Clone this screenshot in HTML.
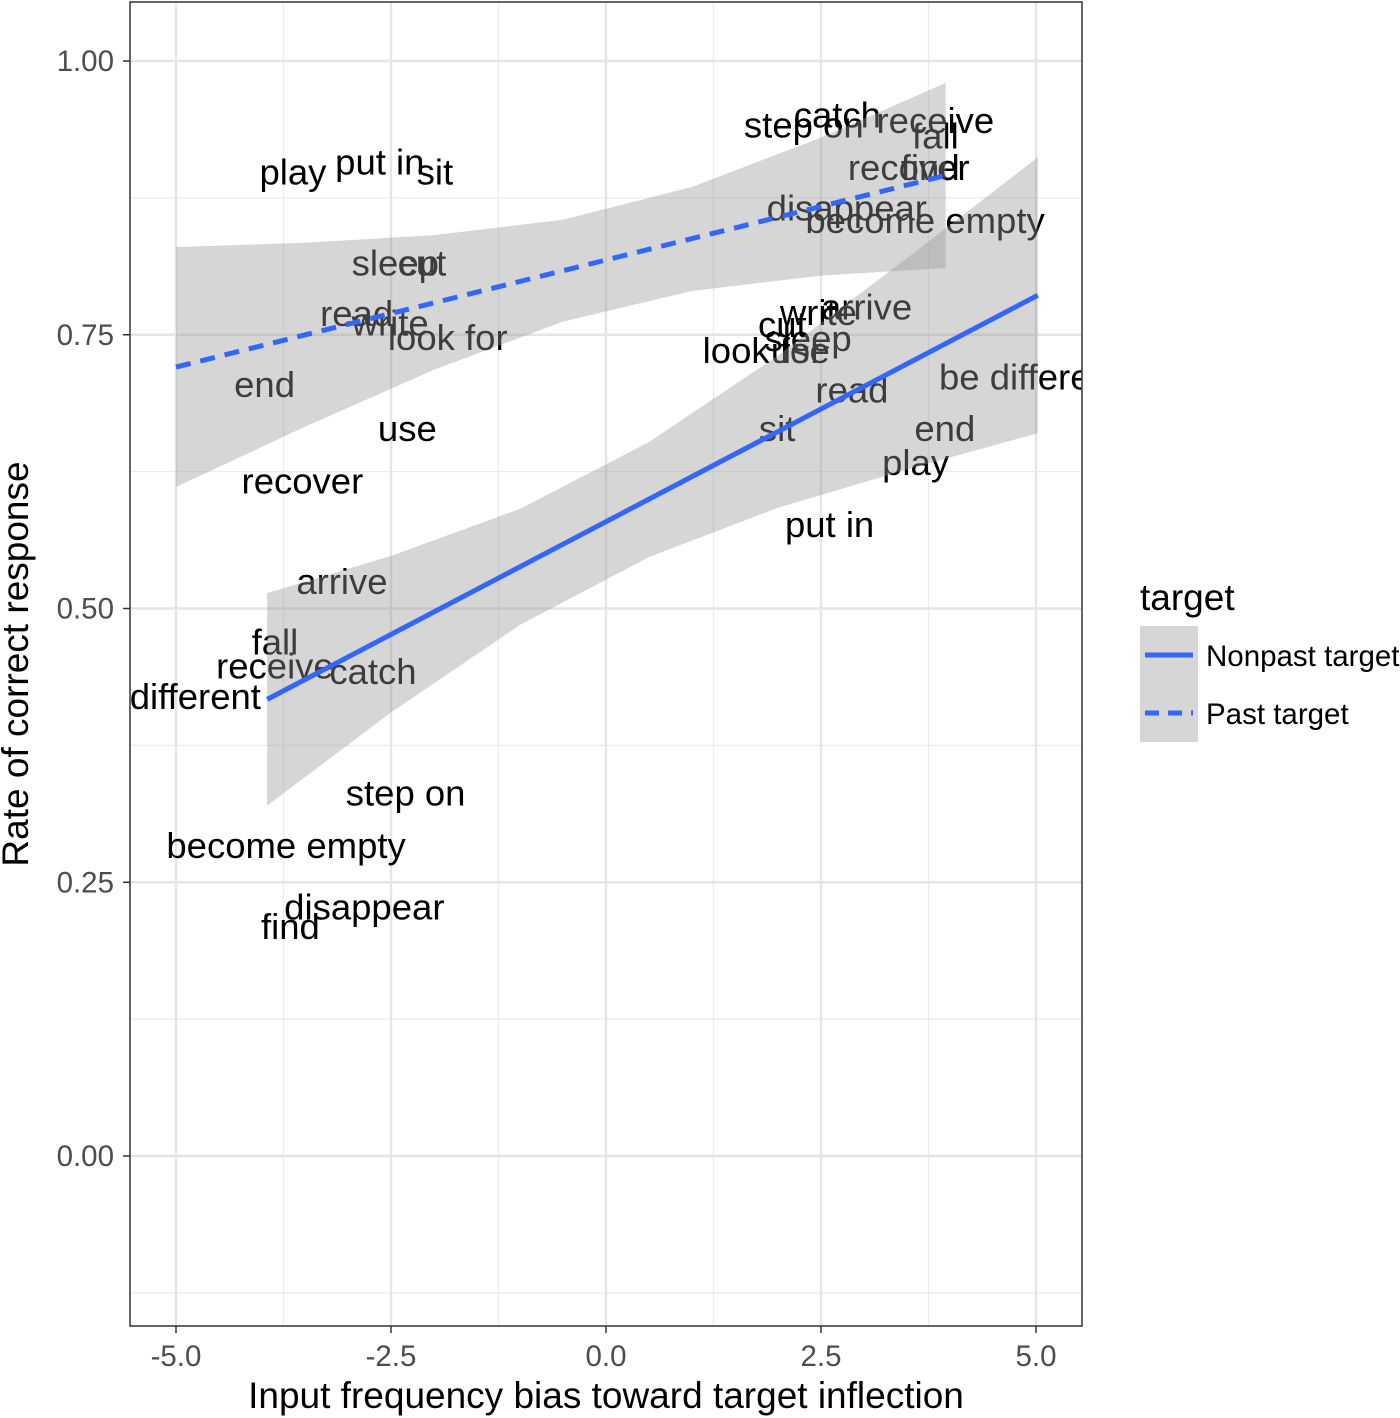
<!DOCTYPE html>
<html><head><meta charset="utf-8"><style>
html,body{margin:0;padding:0;background:#fff;}
svg{display:block;font-family:"Liberation Sans",Arial,sans-serif;}
</style></head><body>
<svg id="chart" width="1400" height="1418" viewBox="0 0 1400 1418">
<defs><clipPath id="pc"><rect x="130" y="2" width="952" height="1324"/></clipPath></defs>
<rect x="0" y="0" width="1400" height="1418" fill="#fff"/>
<g id="grid"></g>
<g id="labels" clip-path="url(#pc)"></g>
<g id="ribbons" clip-path="url(#pc)"></g>
<g id="lines" clip-path="url(#pc)"></g>
<rect x="130" y="2" width="952" height="1324" fill="none" stroke="#333" stroke-width="1.5"/>
<g id="axes"></g>
<text x="606" y="1408" text-anchor="middle" font-size="37" fill="#000">Input frequency bias toward target inflection</text>
<text transform="translate(28,664) rotate(-90)" text-anchor="middle" font-size="37" fill="#000">Rate of correct response</text>
<g>
<text x="1140" y="610" font-size="37" fill="#000">target</text>
<rect x="1140" y="626" width="58" height="58" fill="#d6d6d6"/>
<line x1="1145" y1="655" x2="1193" y2="655" stroke="#3366ff" stroke-width="5"/>
<text x="1206" y="666" font-size="29.5" fill="#000">Nonpast target</text>
<rect x="1140" y="684" width="58" height="58" fill="#d6d6d6"/>
<line x1="1145" y1="713" x2="1193" y2="713" stroke="#3366ff" stroke-width="5" stroke-dasharray="14 9"/>
<text x="1206" y="724" font-size="29.5" fill="#000">Past target</text>
</g>
</svg>
<script>
const words = ["play","put in","sit","sleep","cut","read","write","look for","end","use","recover","step on","catch","receive","fall","recover","find","disappear","become empty",
"arrive","fall","receive","catch","be different","step on","become empty","disappear","find","write","arrive","cut","sleep","look for","use","read","sit","end","play","put in","be different"];
const wordX = [-3.64,-2.63,-1.99,-2.45,-2.14,-2.90,-2.51,-1.84,-3.97,-2.31,-3.53,2.30,2.69,3.83,3.83,3.52,3.77,2.80,3.71,
-3.07,-3.85,-3.85,-2.71,-5.07,-2.33,-3.72,-2.81,-3.67,2.47,3.03,2.05,2.35,1.82,2.26,2.86,1.99,3.94,3.60,2.60,4.93];
const wordY = [0.899,0.908,0.899,0.816,0.816,0.770,0.761,0.748,0.705,0.665,0.617,0.942,0.951,0.946,0.932,0.903,0.903,0.866,0.855,
0.525,0.470,0.448,0.443,0.420,0.332,0.284,0.228,0.210,0.771,0.776,0.760,0.747,0.736,0.736,0.700,0.665,0.665,0.634,0.577,0.712];
const pastRibX = [-5,-3.5,-2,-0.5,1,2.5,3.95];
const pastLo = [0.611,0.666,0.718,0.762,0.790,0.804,0.811];
const pastHi = [0.830,0.834,0.841,0.855,0.885,0.930,0.980];
const npRibX = [-3.94,-2.5,-1,0.5,2,3.5,5.02];
const npLo = [0.320,0.405,0.485,0.547,0.592,0.627,0.660];
const npHi = [0.514,0.548,0.591,0.652,0.731,0.820,0.912];
const pastLineX = [-5,3.95], pastLineY = [0.7205,0.8955];
const npLineX = [-3.94,5.02], npLineY = [0.417,0.786];
const xTicks = [-5,-2.5,0,2.5,5], xTickLabels = ["-5.0","-2.5","0.0","2.5","5.0"];
const yTicks = [0,0.25,0.5,0.75,1], yTickLabels = ["0.00","0.25","0.50","0.75","1.00"];
const xMinor = [-3.75,-1.25,1.25,3.75], yMinor = [-0.125,0.125,0.375,0.625,0.875];

const NS="http://www.w3.org/2000/svg";
const sx = v => 606 + v*86;
const sy = v => 1156 - v*1095;
function mk(tag, attrs, parent){const e=document.createElementNS(NS,tag);for(const k in attrs)e.setAttribute(k,attrs[k]);parent.appendChild(e);return e;}
const grid=document.getElementById('grid'), axes=document.getElementById('axes');
xMinor.forEach(v=>{const l=mk('line',{x1:sx(v),x2:sx(v),y1:2,y2:1326,stroke:'#ebebeb','stroke-width':1.2},grid);

});
yMinor.forEach(v=>{const l=mk('line',{x1:130,x2:1082,y1:sy(v),y2:sy(v),stroke:'#ebebeb','stroke-width':1.2},grid);

});
xTicks.forEach((v,i)=>{const l=mk('line',{x1:sx(v),x2:sx(v),y1:2,y2:1326,stroke:'#e5e5e5','stroke-width':2.4},grid);


const t=mk('line',{x1:sx(v),x2:sx(v),y1:1326,y2:1333,stroke:'#333','stroke-width':1.5},axes);


const tx=mk('text',{x:sx(v),y:1366,'text-anchor':'middle','font-size':29.5,fill:'#4d4d4d'},axes);tx.textContent=xTickLabels[i];

});
yTicks.forEach((v,i)=>{const l=mk('line',{x1:130,x2:1082,y1:sy(v),y2:sy(v),stroke:'#e5e5e5','stroke-width':2.4},grid);


const t=mk('line',{x1:123,x2:130,y1:sy(v),y2:sy(v),stroke:'#333','stroke-width':1.5},axes);


const tx=mk('text',{x:114,y:sy(v)+10,'text-anchor':'end','font-size':29.5,fill:'#4d4d4d'},axes);tx.textContent=yTickLabels[i];

});
const lg=document.getElementById('labels');
words.forEach((w,i)=>{const t=mk('text',{x:sx(wordX[i]),y:sy(wordY[i])+13,'text-anchor':'middle','font-size':36.5,fill:'#000'},lg);t.textContent=w;

});
const rg=document.getElementById('ribbons');
function ribbon(xs,lo,hi,name){let d='M'+xs.map((x,i)=>sx(x)+','+sy(hi[i])).join(' L');
for(let i=xs.length-1;i>=0;i--)d+=' L'+sx(xs[i])+','+sy(lo[i]);d+=' Z';
const p=mk('path',{d:d,fill:'#999999','fill-opacity':0.4},rg);

}
ribbon(pastRibX,pastLo,pastHi,'past-ribbon');
ribbon(npRibX,npLo,npHi,'nonpast-ribbon');
const lgl=document.getElementById('lines');
const l1=mk('line',{x1:sx(npLineX[0]),y1:sy(npLineY[0]),x2:sx(npLineX[1]),y2:sy(npLineY[1]),stroke:'#3366ff','stroke-width':5},lgl);


const l2=mk('line',{x1:sx(pastLineX[0]),y1:sy(pastLineY[0]),x2:sx(pastLineX[1]),y2:sy(pastLineY[1]),stroke:'#3366ff','stroke-width':5,'stroke-dasharray':'15 10'},lgl);


</script>
</body></html>
